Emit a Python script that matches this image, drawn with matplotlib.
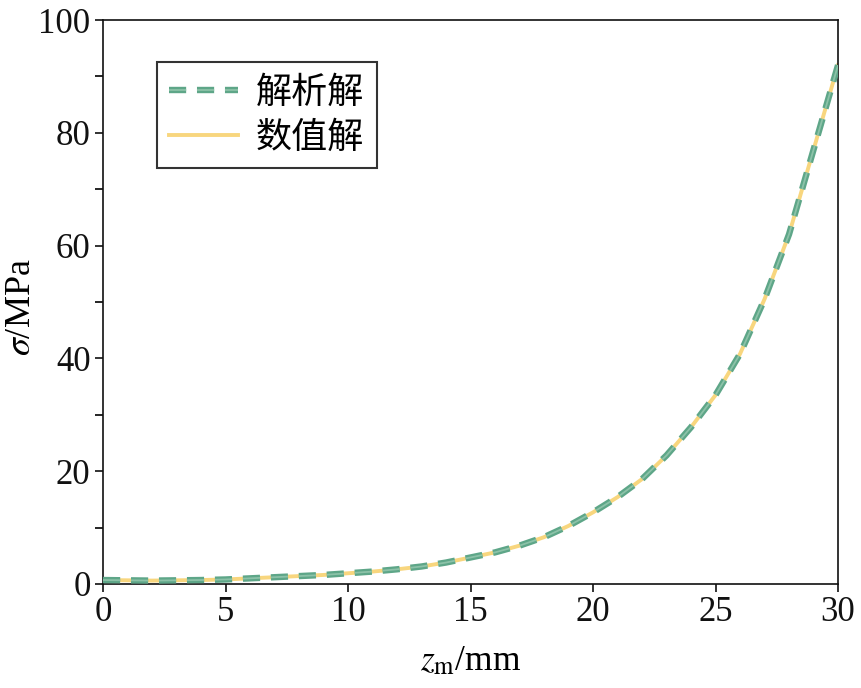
import numpy as np
import matplotlib
matplotlib.use('Agg')
import matplotlib.pyplot as plt
import matplotlib.patheffects as pe
from matplotlib.ticker import MultipleLocator

# data
z_mm = [0, 1, 2, 3, 4, 5, 6, 7, 8, 9, 10, 11, 12, 13, 14, 15,
        16, 17, 18, 19, 20, 21, 22, 23, 24, 25, 26, 27, 28, 29, 30]
sigma_analytic = [0.7, 0.65, 0.6, 0.65, 0.7, 0.8, 1.0, 1.2, 1.4, 1.6, 1.9, 2.2, 2.6, 3.1, 3.8, 4.7,
                  5.6, 6.8, 8.3, 10.3, 12.7, 15.4, 18.6, 22.8, 27.8, 33.5, 40.8, 50.5, 62.0, 77.0, 92.0]
sigma_numeric = list(sigma_analytic)

labels = ['解析解', '数值解']

plt.rcParams['font.family'] = ['Liberation Serif', 'Noto Sans CJK SC']
plt.rcParams['mathtext.fontset'] = 'stix'

fig = plt.figure(figsize=(8.62, 6.88), dpi=100)
ax = fig.add_axes([0.1195, 0.1512, 0.8527, 0.8197])

ax.plot(z_mm, sigma_numeric, '-', color='#F8D67E', lw=2.8, label=labels[1], zorder=2)
# dashed line with a lighter centre stripe, like the reference
ax.plot(z_mm, sigma_analytic, '--', color='#8CC2A8', lw=1.3, dashes=(9.5, 6.0),
        label=labels[0], zorder=3,
        path_effects=[pe.Stroke(linewidth=4.6, foreground='#5EA688'), pe.Normal()])

ax.set_xlim(0, 30)
ax.set_ylim(0, 100)
ax.xaxis.set_major_locator(MultipleLocator(5))
ax.yaxis.set_major_locator(MultipleLocator(20))
ax.yaxis.set_minor_locator(MultipleLocator(10))

ax.tick_params(axis='both', which='major', direction='out', length=6, width=1.2,
               labelsize=25, pad=3, colors='#111111')
ax.tick_params(axis='y', which='minor', direction='out', length=6, width=1.2)
for s in ax.spines.values():
    s.set_linewidth(1.2)
    s.set_color('#111111')

ax.set_xlabel(r'$z_{\mathrm{m}}$/mm', fontsize=25.5, labelpad=11)
ax.set_ylabel(r'$\sigma$/MPa', fontsize=26, labelpad=0)
ax.yaxis.set_label_coords(-0.088, 0.49)

h, l = ax.get_legend_handles_labels()
leg = ax.legend(h[::-1], l[::-1], loc='upper left', bbox_to_anchor=(0.073, 0.926),
                borderaxespad=0, frameon=True, fancybox=False,
                edgecolor='black', handlelength=1.9, handletextpad=0.5,
                labelspacing=0.25, borderpad=0.35,
                prop={'family': ['Noto Sans CJK SC'], 'size': 26})
leg.get_frame().set_linewidth(1.5)

fig.savefig('out.png', dpi=100)
